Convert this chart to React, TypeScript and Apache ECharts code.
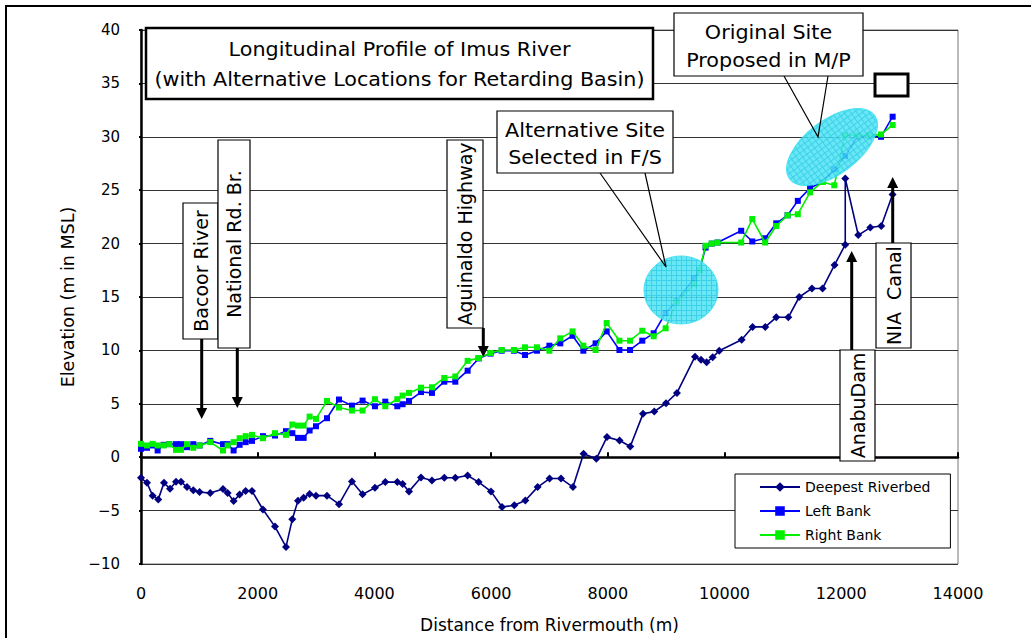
import React, { useEffect, useRef } from "react";
import * as echarts from "echarts";

// ---------- data ----------
const seriesNames = ["Deepest Riverbed", "Left Bank", "Right Bank"];

const riverbedX = [
  0, 103, 199, 296, 394, 497, 600, 685, 788, 896, 1004, 1187, 1405, 1484, 1587, 1690, 1793, 1902,
  2090, 2296, 2485, 2593, 2690, 2787, 2889, 2999, 3187, 3393, 3615, 3797, 4009, 4186, 4392, 4483,
  4592, 4798, 4986, 5197, 5386, 5597, 5785, 5997, 6186, 6397, 6585, 6796, 7001, 7197, 7402, 7584,
  7802, 7985, 8201, 8384, 8602, 8795, 8996, 9184, 9493, 9596, 9692, 9795, 9909, 10292, 10480,
  10697, 10886, 11092, 11280, 11497, 11679, 11885, 12068, 12068, 12291, 12497, 12685, 12879,
];
const riverbedY = [
  -1.93, -2.4, -3.6, -3.95, -2.4, -2.95, -2.3, -2.3, -2.8, -3.1, -3.26, -3.36, -2.98, -3.36, -4.1,
  -3.5, -3.17, -3.17, -4.9, -6.5, -8.4, -5.8, -4.07, -3.8, -3.45, -3.6, -3.6, -4.4, -2.27, -3.48,
  -2.86, -2.33, -2.33, -2.5, -3.2, -1.9, -2.18, -1.93, -1.93, -1.71, -2.33, -3.2, -4.67, -4.5,
  -4.05, -2.8, -2.0, -2.0, -2.8, 0.32, -0.15, 1.88, 1.56, 1.0, 4.06, 4.27, 5.05, 6.02, 9.41, 9.13,
  8.89, 9.35, 9.97, 11.0, 12.2, 12.2, 13.1, 13.1, 15.0, 15.8, 15.8, 18.0, 19.9, 26.1, 20.8, 21.5,
  21.65, 24.6,
];

const bankX = [
  0, 103, 199, 285, 388, 485, 600, 685, 788, 896, 1004, 1187, 1405, 1484, 1587, 1690, 1793, 1902,
  2090, 2296, 2485, 2593, 2690, 2787, 2889, 2999, 3187, 3393, 3615, 3797, 4009, 4186, 4392, 4483,
  4592, 4798, 4986, 5197, 5386, 5597, 5785, 5990, 6180, 6390, 6580, 6785, 6998, 7185, 7395, 7580,
  7790, 7980, 8198, 8380, 8590, 8785, 8990, 9180, 9480, 9570, 9675, 9780, 9880, 10285, 10475,
  10695, 10885, 11080, 11255, 11465, 11675, 11880, 12065, 12275, 12480, 12680, 12880,
];
const leftBankY = [
  0.79, 0.88, 1.1, 0.63, 1.16, 1.22, 1.22, 1.22, 0.94, 1.22, 1.1, 1.53, 1.22, 1.22, 0.63, 1.16,
  1.41, 1.53, 1.97, 2.03, 2.44, 2.25, 1.81, 1.81, 2.5, 2.9, 3.65, 5.4, 4.83, 5.3, 4.77, 5.2, 4.77,
  4.96, 5.27, 6.1, 6.02, 7.07, 7.07, 8.1, 9.25, 9.7, 9.97, 9.97, 9.57, 9.97, 10.44, 10.66, 11.37,
  9.97, 10.66, 11.78, 10.04, 10.04, 10.91, 11.6, 13.5, 14.65, 16.74, 17.54, 19.63, 20.0, 20.1,
  21.2, 20.2, 20.5, 21.9, 22.65, 24.0, 25.2, 25.77, 26.95, 28.2, 30.0, 30.1, 30.0, 31.88,
];
const rightBankY = [
  1.25, 1.1, 1.25, 1.1, 1.1, 1.22, 0.69, 0.69, 1.22, 0.88, 1.1, 1.41, 0.63, 1.1, 1.41, 1.78, 1.97,
  2.09, 1.78, 2.25, 2.09, 3.06, 2.96, 2.96, 3.8, 3.59, 5.27, 4.65, 4.37, 4.37, 5.43, 4.77, 5.43,
  5.77, 6.02, 6.51, 6.55, 7.42, 7.56, 9.02, 9.28, 9.76, 10.04, 10.04, 10.29, 10.29, 9.97, 11.13,
  11.78, 10.44, 10.04, 12.56, 10.91, 10.91, 11.84, 11.32, 12.07, 14.55, 16.2, 17.5, 19.8, 20.0,
  20.1, 20.1, 22.3, 20.1, 21.65, 22.65, 22.75, 24.8, 25.77, 25.46, 30.13, 30.13, 30.13, 30.22, 31.1,
];

const xAxisRange = [0, 14000];
const xAxisStep = 2000;
const yAxisRange = [-10, 40];
const yAxisStep = 5;

const titleLines = [
  "Longitudinal Profile of Imus River",
  "(with Alternative Locations for Retarding Basin)",
];
const originalSiteLines = ["Original Site", "Proposed in M/P"];
const alternativeSiteLines = ["Alternative Site", "Selected in F/S"];
const landmarkLabels = ["Bacoor River", "National Rd. Br.", "Aguinaldo Highway", "AnabuDam", "NIA  Canal"];

const FONT = "'DejaVu Sans', 'Liberation Sans', sans-serif";

function pairs(xs: number[], ys: number[]) {
  return xs.map((x, i) => [x, ys[i]]);
}

function makePattern(): any {
  const c = document.createElement("canvas");
  c.width = 5;
  c.height = 5;
  const ctx = c.getContext("2d")!;
  ctx.fillStyle = "#55E4F4";
  ctx.fillRect(0, 0, 5, 5);
  ctx.fillStyle = "#22CBE6";
  ctx.fillRect(0, 0, 5, 1);
  ctx.fillRect(0, 0, 1, 5);
  return { image: c, repeat: "repeat" };
}

function text(x: number, y: number, t: string, size: number, rotation = 0, sx = 1) {
  return {
    type: "text",
    x,
    y,
    rotation,
    scaleX: sx,
    z: 12,
    style: {
      text: t,
      fontSize: size,
      fontFamily: FONT,
      fill: "#000",
      align: "center",
      verticalAlign: "middle",
      textAlign: "center",
      textVerticalAlign: "middle",
    },
  };
}

function box(x: number, y: number, w: number, h: number, lw = 1.2) {
  return {
    type: "rect",
    z: 10,
    shape: { x, y, width: w, height: h },
    style: { fill: "#fff", stroke: "#000", lineWidth: lw },
  };
}

function arrow(x: number, yTail: number, yTip: number) {
  const dir = Math.sign(yTip - yTail);
  const hl = 11;
  const hw = 5.5;
  return [
    {
      type: "line",
      z: 11,
      shape: { x1: x, y1: yTail, x2: x, y2: yTip - dir * hl },
      style: { stroke: "#000", lineWidth: 3 },
    },
    {
      type: "polygon",
      z: 11,
      shape: { points: [[x, yTip], [x - hw, yTip - dir * hl], [x + hw, yTip - dir * hl]] },
      style: { fill: "#000" },
    },
  ];
}

export default function App() {
  const ref = useRef<HTMLDivElement>(null);

  useEffect(() => {
    const el = ref.current!;
    const chart = echarts.init(el, null, { renderer: "svg" });
    const pattern = makePattern();
    const R = Math.PI / 2;

    const graphics: any[] = [
      {
        type: "rect",
        z: 1,
        shape: { x: 6, y: 6, width: 1100, height: 700 },
        style: { fill: "none", stroke: "#000", lineWidth: 2 },
      },
      {
        type: "ellipse",
        z: 9,
        x: 681,
        y: 290,
        shape: { cx: 0, cy: 0, rx: 37, ry: 34 },
        style: { fill: pattern, stroke: "#3DE0F0", lineWidth: 1, opacity: 0.88 },
      },
      {
        type: "ellipse",
        z: 9,
        x: 832,
        y: 147,
        rotation: (37 * Math.PI) / 180,
        shape: { cx: 0, cy: 0, rx: 53, ry: 27 },
        style: { fill: pattern, stroke: "#3DE0F0", lineWidth: 1, opacity: 0.88 },
      },
      box(146, 28, 507, 71, 2.5),
      text(399.5, 50, titleLines[0], 19, 0, 1.09),
      text(399.5, 80, titleLines[1], 19, 0, 1.09),
      {
        type: "polyline",
        z: 10,
        shape: { points: [[784, 76], [818, 137], [828, 76]] },
        style: { stroke: "#000", lineWidth: 1.2, fill: "none" },
      },
      box(674, 13, 189, 63),
      text(768.5, 33, originalSiteLines[0], 19, 0, 1.09),
      text(768.5, 61, originalSiteLines[1], 19, 0, 1.09),
      {
        type: "polyline",
        z: 10,
        shape: { points: [[600, 173], [666, 267], [645, 173]] },
        style: { stroke: "#000", lineWidth: 1.2, fill: "none" },
      },
      box(497, 111, 176, 62),
      text(585, 131, alternativeSiteLines[0], 19, 0, 1.09),
      text(585, 158, alternativeSiteLines[1], 19, 0, 1.09),
      box(875, 74, 33, 22, 3),
      box(183, 203, 35, 136),
      text(200.5, 271, landmarkLabels[0], 19, R),
      box(218, 140, 32, 208),
      text(234, 244, landmarkLabels[1], 19, R),
      box(447, 140, 36, 188),
      text(465, 234, landmarkLabels[2], 19, R),
      box(840, 350, 35, 111),
      text(857.5, 405.5, landmarkLabels[3], 19, R),
      box(876, 243, 35, 105),
      text(893.5, 295.5, landmarkLabels[4], 19, R),
      ...arrow(201.7, 339, 419),
      ...arrow(237.3, 348, 408),
      ...arrow(483.3, 328, 357),
      ...arrow(851.7, 350, 251),
      ...arrow(892.7, 243, 177),
    ];

    const option: any = {
      animation: false,
      backgroundColor: "#fff",
      textStyle: { fontFamily: FONT },
      grid: {
        left: 141,
        top: 30,
        width: 817,
        height: 534,
        containLabel: false,
        outerBoundsMode: "none",
        show: true,
        borderColor: "#777",
        borderWidth: 1,
        backgroundColor: "transparent",
      },
      legend: {
        data: seriesNames,
        orient: "vertical",
        left: 735,
        top: 474,
        itemWidth: 40,
        itemHeight: 12,
        itemGap: 10,
        padding: [6, 20, 6, 24],
        backgroundColor: "#fff",
        borderColor: "#000",
        borderWidth: 1,
        borderRadius: 0,
        textStyle: { fontSize: 14, color: "#000", fontFamily: FONT },
        z: 20,
      },
      xAxis: {
        type: "value",
        min: xAxisRange[0],
        max: xAxisRange[1],
        interval: xAxisStep,
        name: "Distance from Rivermouth (m)",
        nameLocation: "middle",
        nameGap: 52,
        nameTextStyle: { fontSize: 17, color: "#000", fontFamily: FONT },
        axisLine: { lineStyle: { color: "#000", width: 2.5 } },
        axisTick: { inside: true, length: 5, lineStyle: { color: "#000", width: 2 } },
        axisLabel: {
          fontSize: 16,
          color: "#000",
          margin: 21,
          fontFamily: FONT,
          formatter: (v: number) => String(v),
        },
        splitLine: { show: false },
      },
      yAxis: {
        type: "value",
        min: yAxisRange[0],
        max: yAxisRange[1],
        interval: yAxisStep,
        name: "Elevation (m in MSL)",
        nameLocation: "middle",
        nameRotate: 90,
        nameGap: 60,
        nameTextStyle: { fontSize: 17.5, color: "#000", fontFamily: FONT },
        axisLine: { lineStyle: { color: "#000", width: 2.5 } },
        axisTick: { show: true, inside: false, length: 2, lineStyle: { color: "#000", width: 2 } },
        axisLabel: {
          fontSize: 15,
          color: "#000",
          margin: 21,
          fontFamily: FONT,
          formatter: (v: number) => String(v).replace("-", "\u2212"),
        },
        splitLine: { show: true, lineStyle: { color: "#333", width: 1 } },
      },
      series: [
        {
          name: seriesNames[0],
          type: "line",
          data: pairs(riverbedX, riverbedY),
          symbol: "diamond",
          symbolSize: 8,
          lineStyle: { color: "#000080", width: 1.6 },
          itemStyle: { color: "#000080" },
          z: 3,
        },
        {
          name: seriesNames[1],
          type: "line",
          data: pairs(bankX, leftBankY),
          symbol: "rect",
          symbolSize: 6,
          lineStyle: { color: "#0000FF", width: 1.6 },
          itemStyle: { color: "#0000FF" },
          z: 4,
        },
        {
          name: seriesNames[2],
          type: "line",
          data: pairs(bankX, rightBankY),
          symbol: "rect",
          symbolSize: 6,
          lineStyle: { color: "#00F000", width: 1.6 },
          itemStyle: { color: "#00F000" },
          z: 5,
        },
      ],
      graphic: { elements: graphics },
    };

    chart.setOption(option);
    return () => chart.dispose();
  }, []);

  return (
    <div
      ref={ref}
      style={{ position: "fixed", left: 0, top: 0, width: 1031, height: 638, background: "#fff" }}
    />
  );
}
